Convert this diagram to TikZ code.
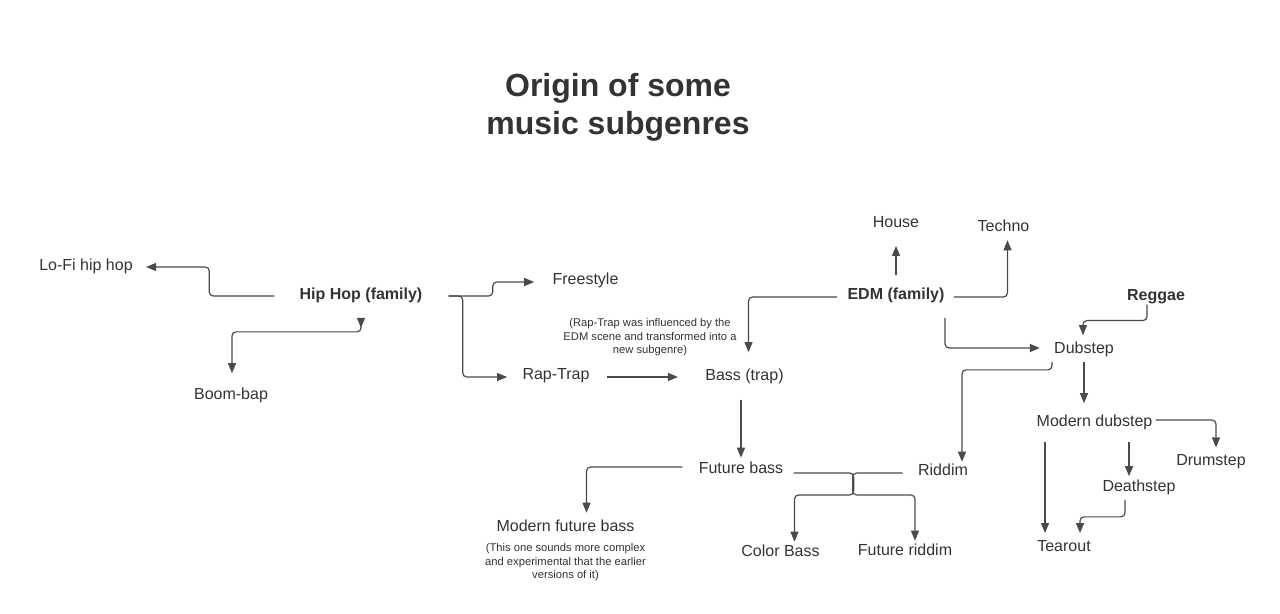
\documentclass[tikz,border=0pt]{standalone}
\usepackage{fontspec}
\setmainfont{Liberation Sans}
\usetikzlibrary{arrows.meta,calc}
\definecolor{ink}{HTML}{333333}
\definecolor{wire}{HTML}{4A4A4A}

\begin{document}
\begin{tikzpicture}[x=0.5pt, y=-0.5pt, >={Triangle[length=5pt,width=4pt]},
  genre/.style={inner sep=0pt, text=ink, font=\fontsize{8}{9.6}\selectfont},
  family/.style={genre, font=\fontsize{8}{9.6}\selectfont\bfseries},
  remark/.style={inner sep=0pt, text=ink, align=center, font=\fontsize{5.6}{6.75}\selectfont},
  link/.style={draw=wire, line width=0.6pt, rounded corners=2pt, ->}]
  \useasboundingbox (0,0) rectangle (1280,614);

  % Title
  \node[align=center, text=ink, font=\fontsize{16}{19}\selectfont\bfseries] (title) at (618,107) {Origin of some\\music subgenres};

  % Hip hop side
  \node[family] (hiphop) at (361,295) {Hip Hop (family)};
  \node[genre] (lofi) at (86,266) {Lo-Fi hip hop};
  \node[genre] (boombap) at (231,395) {Boom-bap};
  \node[genre] (freestyle) at (585.5,280) {Freestyle};
  \node[genre] (raptrap) at (556,376) {Rap-Trap};
  \node[genre] (basstrap) at (744.5,376) {Bass (trap)};
  \node[remark] (raptrapnote) at (650,337.5) {(Rap-Trap was influenced by the\\EDM scene and transformed into a\\new subgenre)};
  \node[genre] (futurebass) at (741,468) {Future bass};
  \node[genre] (modernfuturebass) at (565.5,526) {Modern future bass};
  \node[remark] (futurebassnote) at (565.5,562.5) {(This one sounds more complex\\and experimental that the earlier\\versions of it)};
  \node[genre] (colorbass) at (780.5,551) {Color Bass};
  \node[genre] (futureriddim) at (905,550) {Future riddim};

  % EDM side
  \node[family] (edm) at (896,295) {EDM (family)};
  \node[genre] (house) at (896,222) {House};
  \node[genre] (techno) at (1003.5,226) {Techno};
  \node[family] (reggae) at (1156,297) {Reggae};
  \node[genre] (dubstep) at (1084,349) {Dubstep};
  \node[genre] (riddim) at (943,470) {Riddim};
  \node[genre] (moderndubstep) at (1094.5,422) {Modern dubstep};
  \node[genre] (drumstep) at (1211,462) {Drumstep};
  \node[genre] (deathstep) at (1139,487) {Deathstep};
  \node[genre] (tearout) at (1064,546) {Tearout};

  % Hip hop links
  \draw[link] ($(hiphop.west)+(-25,1)$) -- ++(-65,0) |- ($(lofi.east)+(13,1)$);
  \draw[link, arrows={Triangle[reversed,length=5pt,width=4pt]}-{Triangle[length=5pt,width=4pt]}] ($(hiphop.south)+(0,15)$) -- ++(0,14) -| ($(boombap.north)+(1,-14)$);
  \draw[link] ($(hiphop.east)+(26,1)$) -- ++(44,0) |- ($(freestyle.west)+(-18,2)$);
  \draw[link] ($(hiphop.east)+(26,1)$) -- ++(14,0) |- ($(raptrap.west)+(-15,1)$);
  \draw[link] ($(raptrap.east)+(17,1)$) -- ($(basstrap.west)+(-27,1)$);
  \draw[link] ($(basstrap.south)+(-3.5,16)$) -- ($(futurebass.north)+(0,-4)$);
  \draw[link] ($(futurebass.west)+(-16,-1)$) -| ($(modernfuturebass.north)+(21,-7)$);
  \draw[link] ($(futurebass.east)+(10,5)$) -- ++(60,0) -- ++(0,22) -| ($(colorbass.north)+(14,-3)$);
  \draw[link] ($(riddim.west)+(-15,3)$) -- ++(-50,0) -- ++(0,22) -| ($(futureriddim.north)+(10,-3)$);

  % EDM links
  \draw[link] ($(edm.west)+(-10,2)$) -| ($(basstrap.north)+(4,-16)$);
  \draw[link] ($(edm.north)+(0,-12)$) -- ($(house.south)+(0,18)$);
  \draw[link] ($(edm.east)+(9,2)$) -| ($(techno.south)+(4,8)$);
  \draw[link] ($(edm.south)+(49,15)$) |- ($(dubstep.west)+(-14,-1)$);
  \draw[link] ($(reggae.south)+(-9,0)$) -- ++(0,16) -| ($(dubstep.north)+(-1,-6)$);
  \draw[link] ($(dubstep.south)+(-32,5)$) -- ++(0,8) -| ($(riddim.north)+(19,-2)$);
  \draw[link] ($(dubstep.south)+(0,5)$) -- ($(moderndubstep.north)+(-10.5,-11)$);
  \draw[link] ($(moderndubstep.east)+(3,-2)$) -| ($(drumstep.north)+(5,-7)$);
  \draw[link] ($(moderndubstep.south)+(34.5,12)$) -- ($(deathstep.north)+(-10,-3)$);
  \draw[link] ($(moderndubstep.south)+(-49.5,12)$) -- ($(tearout.north)+(-19,-7)$);
  \draw[link] ($(deathstep.south)+(-14,5)$) -- ++(0,17) -| ($(tearout.north)+(16,-7)$);
\end{tikzpicture}
\end{document}
